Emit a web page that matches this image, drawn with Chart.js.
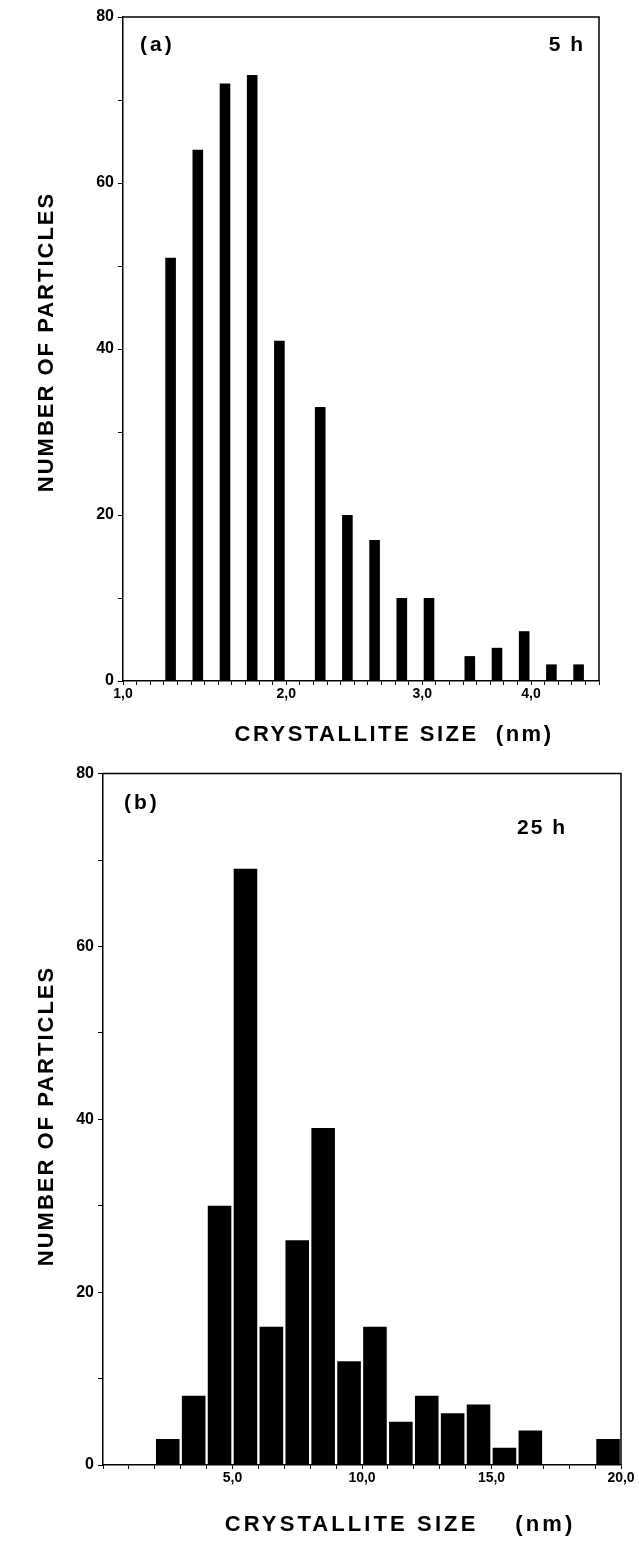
<!DOCTYPE html>
<html><head><meta charset="utf-8">
<script src="https://cdn.jsdelivr.net/npm/chart.js@4.4.1/dist/chart.umd.min.js"></script>
<style>
html,body{margin:0;padding:0;background:#fff;}
#wrap{position:relative;width:639px;height:1551px;overflow:hidden;background:#fff;}
canvas{position:absolute;left:0;}
</style></head><body>
<div id="wrap">
<canvas id="cA" width="639" height="760" style="top:0px"></canvas>
<canvas id="cB" width="639" height="791" style="top:760px"></canvas>
</div>
<script>
// ---- Panel (a): 5 h ----
const aPositions = [3.5, 5.5, 7.5, 9.5, 11.5, 14.5, 16.5, 18.5, 20.5, 22.5, 25.5, 27.5, 29.5, 31.5, 33.5];
const aCounts    = [51, 64, 72, 73, 41, 33, 20, 17, 10, 10, 3, 4, 6, 2, 2];
const aTickPositions = [0, 12, 22, 30];
const aTickLabels    = ['1,0', '2,0', '3,0', '4,0'];

// ---- Panel (b): 25 h ----
const bBinCenters = [2.5, 3.5, 4.5, 5.5, 6.5, 7.5, 8.5, 9.5, 10.5, 11.5, 12.5, 13.5, 14.5, 15.5, 16.5, 19.5];
const bCounts     = [3, 8, 30, 69, 16, 26, 39, 12, 16, 5, 8, 6, 7, 2, 4, 3];
const bTickPositions = [5, 10, 15, 20];
const bTickLabels    = ['5,0', '10,0', '15,0', '20,0'];

const yTickValues = [0, 20, 40, 60, 80];
const yTitle = 'NUMBER OF PARTICLES';
const xTitleA = 'CRYSTALLITE SIZE  (nm)';
const xTitleB = 'CRYSTALLITE SIZE    (nm)';

const FAMILY = '"Liberation Sans", Arial, Helvetica, sans-serif';

const panelDecor = {
  id: 'panelDecor',
  afterDraw(chart, args, opts) {
    const ctx = chart.ctx, a = chart.chartArea;
    ctx.save();
    ctx.strokeStyle = '#000';
    ctx.lineWidth = 1.5;
    ctx.beginPath();
    ctx.moveTo(a.left, a.top);
    ctx.lineTo(a.right, a.top);
    ctx.lineTo(a.right, a.bottom);
    ctx.stroke();
    ctx.restore();
    (opts.texts || []).forEach(t => {
      ctx.save();
      ctx.translate(t.x, t.y);
      if (t.rotate) ctx.rotate(t.rotate);
      ctx.font = t.font;
      ctx.letterSpacing = (t.spacing || 0) + 'px';
      ctx.textAlign = t.align || 'left';
      ctx.textBaseline = 'middle';
      ctx.fillStyle = '#000';
      ctx.fillText(t.text, 0, 0);
      ctx.restore();
    });
  }
};

function makeChart(id, cfg) {
  const data = cfg.positions.map((x, i) => ({ x: x, y: cfg.counts[i] }));
  return new Chart(document.getElementById(id), {
    type: 'bar',
    data: {
      datasets: [{
        data: data,
        backgroundColor: '#000',
        borderWidth: 0,
        barPercentage: cfg.barPct,
        categoryPercentage: 1
      }]
    },
    options: {
      responsive: false,
      animation: false,
      devicePixelRatio: 1,
      layout: { padding: { left: 0, top: cfg.padTop, right: cfg.padRight, bottom: 0 } },
      plugins: {
        legend: { display: false },
        tooltip: { enabled: false },
        panelDecor: { texts: cfg.texts }
      },
      scales: {
        x: {
          type: 'linear',
          min: 0,
          max: cfg.xMax,
          offset: false,
          afterFit(s) { s.height = cfg.xH; },
          afterBuildTicks(s) {
            const t = [];
            for (let v = 0; v <= cfg.xMax; v++) t.push({ value: v });
            s.ticks = t;
          },
          ticks: {
            autoSkip: false,
            maxRotation: 0,
            minRotation: 0,
            padding: 1,
            color: '#000',
            font: { family: FAMILY, size: 14, weight: 'bold' },
            callback(v) {
              const i = cfg.tickPos.indexOf(v);
              return i >= 0 ? cfg.tickLab[i] : '';
            }
          },
          grid: { display: true, drawOnChartArea: false, drawTicks: true, tickLength: 4, color: '#000', lineWidth: 1, offset: false },
          border: { display: true, color: '#000', width: 1.5 }
        },
        y: {
          min: 0,
          max: 80,
          afterFit(s) { s.width = cfg.yW; },
          afterBuildTicks(s) {
            const t = [];
            for (let v = 0; v <= 80; v += 10) t.push({ value: v });
            s.ticks = t;
          },
          ticks: {
            padding: 4,
            color: '#000',
            font: { family: FAMILY, size: 16, weight: 'bold' },
            callback(v) { return yTickValues.includes(v) ? String(v) : ''; }
          },
          grid: { display: true, drawOnChartArea: false, drawTicks: true, tickLength: 5, color: '#000', lineWidth: 1 },
          border: { display: true, color: '#000', width: 1.5 }
        }
      }
    },
    plugins: [panelDecor]
  });
}

const titleFont = 'bold 22px ' + FAMILY;
const tagFont = 'bold 21px ' + FAMILY;

makeChart('cA', {
  positions: aPositions, counts: aCounts,
  tickPos: aTickPositions, tickLab: aTickLabels,
  xMax: 35, barPct: 0.78,
  padTop: 17, padRight: 40, yW: 123, xH: 79,
  texts: [
    { text: '(a)', x: 140, y: 45, font: tagFont, spacing: 3 },
    { text: '5 h', x: 585, y: 45, font: tagFont, spacing: 2, align: 'right' },
    { text: yTitle, x: 47, y: 342, font: titleFont, spacing: 2, align: 'center', rotate: -Math.PI / 2 },
    { text: xTitleA, x: 394, y: 735, font: titleFont, spacing: 2.5, align: 'center' }
  ]
});

makeChart('cB', {
  positions: bBinCenters, counts: bCounts,
  tickPos: bTickPositions, tickLab: bTickLabels,
  xMax: 20, barPct: 0.91,
  padTop: 13, padRight: 18, yW: 103, xH: 86,
  texts: [
    { text: '(b)', x: 124, y: 43, font: tagFont, spacing: 3 },
    { text: '25 h', x: 567, y: 68, font: tagFont, spacing: 2, align: 'right' },
    { text: yTitle, x: 47, y: 356, font: titleFont, spacing: 2, align: 'center', rotate: -Math.PI / 2 },
    { text: xTitleB, x: 400, y: 765, font: titleFont, spacing: 3.1, align: 'center' }
  ]
});
</script>
</body></html>
